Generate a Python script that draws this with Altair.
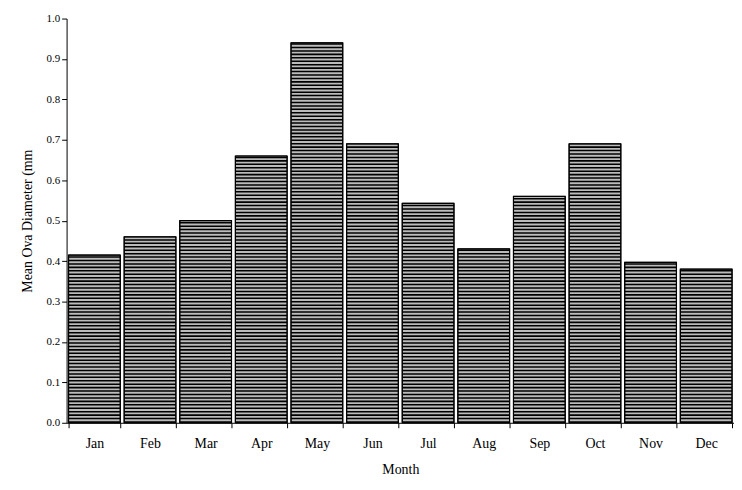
import numpy as np
import pandas as pd
import altair as alt

months = ["Jan", "Feb", "Mar", "Apr", "May", "Jun", "Jul", "Aug", "Sep", "Oct", "Nov", "Dec"]
diameter = [0.415, 0.46, 0.50, 0.66, 0.94, 0.69, 0.543, 0.43, 0.56, 0.69, 0.397, 0.38]

df = pd.DataFrame({"Month": months, "value": diameter})

# horizontal hatching stripes inside each bar
step = 0.0085
rows = []
for m, v in zip(months, diameter):
    for lo in np.arange(0, v - step / 2, step):
        rows.append({"Month": m, "lo": lo, "hi": min(lo + step * 0.45, v)})
hatch = pd.DataFrame(rows)

x = alt.X("Month:N", sort=months, title="Month",
          scale=alt.Scale(paddingInner=0.07, paddingOuter=0.035),
          axis=alt.Axis(labelAngle=0, tickBand="extent", domainColor="black",
                        tickColor="black", labelPadding=9, titlePadding=12))
y_scale = alt.Scale(domain=[0, 1])

bars = alt.Chart(df).mark_bar(fill="#bbbbbb", stroke="black", strokeWidth=1).encode(
    x=x,
    y=alt.Y("value:Q", scale=y_scale, title="Mean Ova Diameter (mm",
            axis=alt.Axis(format=".1f", tickCount=10, grid=False, domainColor="black",
                          tickColor="black", titlePadding=12)),
)

stripes = alt.Chart(hatch).mark_bar(fill="black").encode(
    x=alt.X("Month:N", sort=months),
    y=alt.Y("lo:Q", scale=y_scale),
    y2="hi:Q",
)

outline = alt.Chart(df).mark_bar(fill=None, stroke="black", strokeWidth=1.2).encode(
    x=alt.X("Month:N", sort=months), y=alt.Y("value:Q", scale=y_scale)
)

chart = (bars + stripes + outline).properties(
    width=672, height=407, padding={"left": 12, "top": 3, "right": 0, "bottom": 5}
).configure_view(stroke=None).configure_axis(
    labelFont="Liberation Serif", titleFont="Liberation Serif", labelFontSize=14,
    titleFontSize=14, titleFontWeight="normal", labelColor="black", titleColor="black"
).configure_axisY(labelFontSize=11)

chart.save("out.html", embed_options={"renderer": "svg", "actions": False})
